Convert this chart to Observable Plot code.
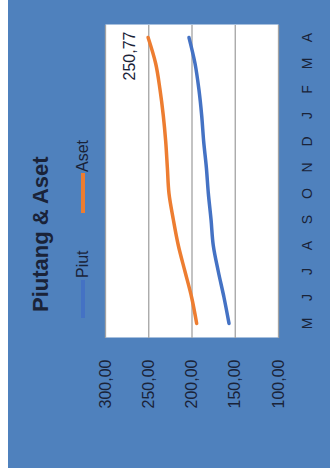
<!DOCTYPE html>
<html><head><meta charset="utf-8">
<script src="https://cdn.jsdelivr.net/npm/d3@7"></script>
<script src="https://cdn.jsdelivr.net/npm/@observablehq/plot@0.6"></script>
<style>
html,body{margin:0;padding:0;background:#fff;width:330px;height:475px;overflow:hidden;}
#rot{position:absolute;left:0;top:0;width:475px;height:330px;transform-origin:0 0;transform:translate(0,475px) rotate(-90deg);}
#card{position:absolute;left:7px;top:8px;width:468px;height:322px;background:#4f81bd;font-family:"Liberation Sans",Arial,sans-serif;color:#1a2338;}
#title{position:absolute;left:156px;top:20px;font-size:22px;font-weight:bold;line-height:26px;white-space:nowrap;}
.lt{position:absolute;top:65px;font-size:16px;line-height:20px;white-space:nowrap;}
.sw{position:absolute;top:73px;height:3.5px;}
#chart{position:absolute;left:0;top:60px;}
</style></head>
<body>
<div id="rot"><div id="card">
  <div id="title">Piutang &amp; Aset</div>
  <div class="sw" style="left:150px;width:38px;background:#4472c4"></div>
  <div class="lt" style="left:190px">Piut</div>
  <div class="sw" style="left:255px;width:40px;background:#ed7d31"></div>
  <div class="lt" style="left:296px">Aset</div>
  <div id="chart"></div>
</div></div>
<script>
const months = ["M","J","J","A","S","O","N","D","J","F","M","A"];
const piut = [157.2, 163.0, 169.6, 175.4, 178.0, 181.1, 183.4, 186.5, 188.8, 192.0, 196.5, 203.5];
const aset = [194.6, 200.4, 208.1, 215.8, 221.6, 226.6, 228.5, 230.4, 233.2, 237.0, 242.0, 250.77];
const seriesNames = ["Piut", "Aset"];
const seriesColors = ["#4472c4", "#ed7d31"];
const yTicks = [100, 150, 200, 250, 300];

const fmt = v => v.toFixed(2).replace(".", ",");
const data = months.flatMap((m, i) => [
  {i, series: "Piut", value: piut[i]},
  {i, series: "Aset", value: aset[i]}
]);
const lastAset = data.filter(d => d.series === "Aset" && d.i === months.length - 1);

const chart = Plot.plot({
  width: 468, height: 262,
  marginTop: 37, marginBottom: 52, marginLeft: 130, marginRight: 25,
  style: {background: "transparent", fontFamily: "Liberation Sans, Arial, sans-serif", fontSize: "16px", color: "#1a2338"},
  x: {type: "point", domain: d3.range(months.length), padding: 0.5, label: null},
  y: {domain: [100, 300], label: null},
  color: {domain: seriesNames, range: seriesColors},
  marks: [
    Plot.frame({fill: "white", stroke: null}),
    Plot.ruleY(yTicks, {stroke: "#a3a3a3", strokeWidth: 1.3}),
    Plot.line(data, {x: "i", y: "value", z: "series", stroke: "series", strokeWidth: 3.5, curve: "monotone-x"}),
    Plot.text(lastAset, {x: "i", y: "value", text: d => fmt(d.value), textAnchor: "end", dx: 6, dy: -18, fontSize: 16, fill: "#1a2338"}),
    Plot.axisY({ticks: yTicks, tickSize: 0, tickPadding: 22, tickFormat: fmt, fontSize: 16}),
    Plot.axisX({tickSize: 0, tickPadding: 24, tickFormat: i => months[i], fontSize: 14})
  ]
});
document.getElementById("chart").appendChild(chart);
</script>
</body></html>
